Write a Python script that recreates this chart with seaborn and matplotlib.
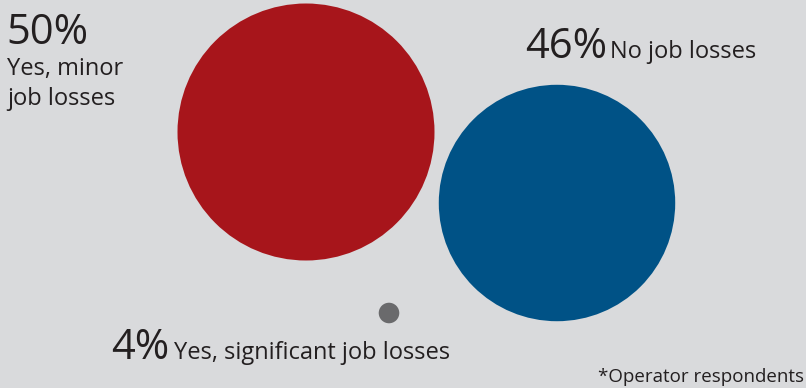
import matplotlib
matplotlib.use("Agg")
import matplotlib.pyplot as plt
import seaborn as sns
import pandas as pd

# Survey shares (percent of operator respondents)
categories = ["Yes, minor job losses", "No job losses", "Yes, significant job losses"]
values = [50, 46, 4]
value_labels = ["50%", "46%", "4%"]
colors = ["#a7151b", "#005286", "#6a6a6c"]

# Bubble centres on the pixel canvas
centre_x = [306, 557, 389]
centre_y = [132, 203, 313]

W, H, DPI = 806, 388, 100
BG = "#d9dadc"
INK = "#231f20"

sns.set_theme(style="white")
plt.rcParams["font.family"] = ["Open Sans", "DejaVu Sans"]

df = pd.DataFrame({"category": categories, "value": values,
                   "x": centre_x, "y": centre_y})

fig = plt.figure(figsize=(W / DPI, H / DPI), dpi=DPI, facecolor=BG)
ax = fig.add_axes([0, 0, 1, 1])
ax.set_facecolor(BG)
ax.set_xlim(0, W)
ax.set_ylim(H, 0)
ax.axis("off")

# Bubble radius scales linearly with the share: 50% -> 128.5 px radius
px_per_pt = DPI / 72.0
diam_pt_per_value = 2 * 128.5 / 50 / px_per_pt
size_map = {v: (v * diam_pt_per_value) ** 2 for v in values}

sns.scatterplot(data=df, x="x", y="y", hue="category",
                palette=dict(zip(categories, colors)),
                size="value", sizes=size_map, legend=False,
                linewidth=0, alpha=1, ax=ax)

big = 30
small = 17

# 50% label, stacked over two lines
ax.text(6, 44, value_labels[0], fontsize=big, color=INK, ha="left", va="baseline")
ax.text(7, 75, "Yes, minor", fontsize=small, color=INK, ha="left", va="baseline")
ax.text(7, 105, "job losses", fontsize=small, color=INK, ha="left", va="baseline")

# 46% label, inline
ax.text(525, 58, value_labels[1], fontsize=big, color=INK, ha="left", va="baseline")
ax.text(610, 58, categories[1], fontsize=small, color=INK, ha="left", va="baseline")

# 4% label, inline
ax.text(111, 359, value_labels[2], fontsize=big, color=INK, ha="left", va="baseline")
ax.text(174, 359, categories[2], fontsize=small, color=INK, ha="left", va="baseline")

ax.text(804, 382, "*Operator respondents", fontsize=13.5, color=INK,
        ha="right", va="baseline")

fig.savefig("out.png", dpi=DPI, facecolor=BG)
